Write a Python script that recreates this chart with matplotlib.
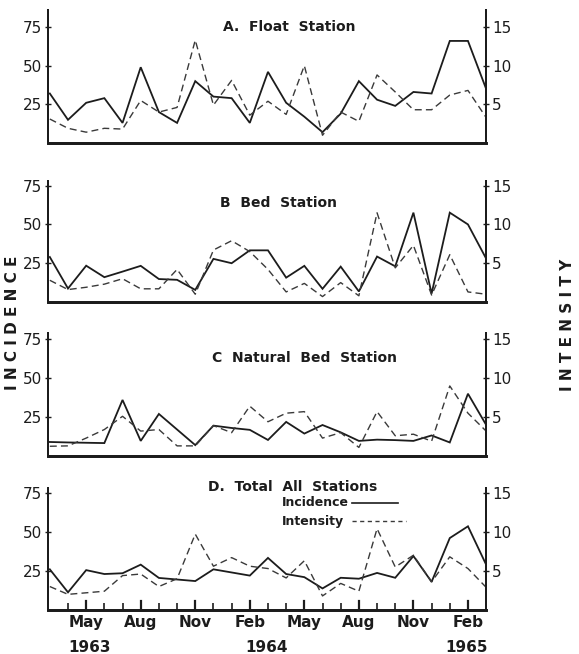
import numpy as np
import matplotlib
matplotlib.use("Agg")
import matplotlib.pyplot as plt
from matplotlib.lines import Line2D

# Monthly samples, March 1963 through March 1965
months = list(range(25))
month_labels = ["May", "Aug", "Nov", "Feb", "May", "Aug", "Nov", "Feb"]
month_label_idx = [2, 5, 8, 11, 14, 17, 20, 23]
year_labels = ["1963", "1964", "1965"]
year_label_pos = [2.2, 11.9, 22.9]

inc_A = [32, 15, 26, 29, 13, 49, 20, 13, 40, 30, 29, 13, 46, 26, 17, 7, 19, 40, 28, 24, 33, 32, 66, 66, 35]
int_A = [3.1, 1.9, 1.4, 1.9, 1.8, 5.5, 4.0, 4.6, 13.3, 4.9, 8.1, 3.6, 5.4, 3.7, 10.0, 1.0, 4.0, 2.8, 8.8, 6.6, 4.3, 4.3, 6.2, 6.8, 3.3]

inc_B = [29, 8.7, 23.4, 16, 19.6, 23.3, 14.8, 14.3, 7.8, 27.8, 25, 33.3, 33.3, 15.7, 23.3, 8.5, 22.8, 6.8, 29.3, 23, 57.6, 5.4, 57.6, 50, 28]
int_B = [2.8, 1.6, 1.9, 2.3, 3.0, 1.7, 1.7, 4.2, 1.0, 6.7, 7.9, 6.5, 4.2, 1.3, 2.4, 0.7, 2.5, 0.8, 11.5, 4.4, 7.3, 0.9, 6.1, 1.3, 1.0]

inc_C = [9, 8.7, 8.5, 8.3, 36, 9.7, 27, 17, 7, 19.5, 18, 16.8, 10.3, 21.9, 14.4, 19.9, 15.2, 9.7, 10.5, 10.2, 9.7, 13.2, 8.7, 40, 20]
int_C = [1.25, 1.3, 2.3, 3.4, 5.1, 3.2, 3.4, 1.3, 1.3, 3.9, 3.0, 6.4, 4.4, 5.5, 5.7, 2.3, 3.0, 1.1, 5.7, 2.6, 2.8, 1.9, 9.0, 5.5, 3.2]

inc_D = [26, 11.3, 25.5, 23, 23.5, 29, 20.5, 19.5, 18.5, 26, 24, 22, 33.3, 23, 21, 13.8, 20.6, 20, 23.7, 20.6, 34.5, 18, 46, 53.5, 29]
int_D = [3.0, 2.0, 2.2, 2.4, 4.4, 4.6, 3.0, 4.0, 9.7, 5.6, 6.7, 5.6, 5.3, 4.1, 6.3, 1.8, 3.4, 2.4, 10.4, 5.5, 7.0, 3.6, 6.8, 5.3, 2.9]

titles = ["A.  Float  Station", "B  Bed  Station", "C  Natural  Bed  Station", "D.  Total  All  Stations"]
inc_ticks = [25, 50, 75]
int_ticks = [5, 10, 15]

W, H = 579, 654
fig = plt.figure(figsize=(W / 100, H / 100), dpi=100)
fig.patch.set_facecolor("white")

INK = "#1c1c1c"
DASH = "#3a3a3a"
FONT = "DejaVu Sans"


def px(x, y):
    return x / W, 1 - y / H


# panel boxes in pixels: (top, bottom, incidence ceiling)
boxes = [(10, 143, 86), (181, 302, 78), (333, 456, 79), (488, 610, 78)]
title_pos = [(289, 27), (278, 203), (304, 358), (293, 487)]
series = [(inc_A, int_A), (inc_B, int_B), (inc_C, int_C), (inc_D, int_D)]

left_px, right_px = 48, 486.5
for k, ((top, bot, ymax), (inc, inten)) in enumerate(zip(boxes, series)):
    l, b = px(left_px, bot)
    ax = fig.add_axes([l, b, (right_px - left_px) / W, (bot - top) / H])
    ax2 = ax.twinx()
    ax.set_xlim(-0.1, 24.02)
    ax.set_ylim(0, ymax)
    ax2.set_ylim(0, ymax / 5)

    ax.plot(months, inc, color=INK, lw=1.3, solid_joinstyle="miter")
    ax2.plot(months, inten, color=DASH, lw=1.0, dashes=(5, 3))

    for a in (ax, ax2):
        a.spines["top"].set_visible(False)
        a.set_facecolor("none")
        for s in ("left", "right"):
            a.spines[s].set_linewidth(1.4)
            a.spines[s].set_color(INK)
        a.spines["bottom"].set_linewidth(2.0)
        a.spines["bottom"].set_color(INK)

    ax.set_yticks(inc_ticks)
    ax.set_yticklabels([str(v) for v in inc_ticks], fontsize=11, family=FONT, color=INK)
    ax2.set_yticks(int_ticks)
    ax2.set_yticklabels([str(v) for v in int_ticks], fontsize=11, family=FONT, color=INK)
    ax.tick_params(axis="y", direction="inout", length=4, width=1, pad=2, colors=INK)
    ax2.tick_params(axis="y", direction="inout", length=4, width=1, pad=2, colors=INK)

    if k < 3:
        ax.set_xticks([])
    else:
        ax.set_xticks(range(1, 24))
        ax.set_xticklabels([])
        ax.tick_params(axis="x", direction="in", length=5, width=1.2, colors=INK)
        for i, name in zip(month_label_idx, month_labels):
            ax.axvline(i, ymin=0, ymax=9 / (bot - top), color=INK, lw=1.6)
            ax.text(i, -0.1, name, transform=ax.get_xaxis_transform(),
                    ha="center", va="center", fontsize=11, family=FONT,
                    fontweight="bold", color=INK)
        for x, yr in zip(year_label_pos, year_labels):
            ax.text(x, -0.31, yr, transform=ax.get_xaxis_transform(),
                    ha="center", va="center", fontsize=11, family=FONT,
                    fontweight="bold", color=INK)

    tx, ty = px(*title_pos[k])
    fig.text(tx, ty, titles[k], ha="center", va="center", fontsize=10,
             family=FONT, fontweight="bold", color=INK)

# legend for the bottom panel
for label, yy, style in [("Incidence", 503, "-"), ("Intensity", 521, "--")]:
    x0, y0 = px(282, yy)
    fig.text(x0, y0, label, ha="left", va="center", fontsize=9,
             family=FONT, fontweight="bold", color=INK)
    xa, ya = px(352, yy)
    xb, _ = px(398, yy)
    if style == "-":
        fig.add_artist(Line2D([xa, xb], [ya, ya], color=INK, lw=1.2, transform=fig.transFigure))
    else:
        xb, _ = px(406, yy)
        fig.add_artist(Line2D([xa, xb], [ya, ya], color=DASH, lw=1.0,
                              dashes=(3, 2.5), transform=fig.transFigure))

# side labels
lx, ly = px(13, 323)
fig.text(lx, ly, "I N C I D E N C E", rotation=90, ha="center", va="center",
         fontsize=11, family=FONT, fontweight="bold", color=INK)
rx, ry = px(567, 325)
fig.text(rx, ry, "I N T E N S I T Y", rotation=90, ha="center", va="center",
         fontsize=11, family=FONT, fontweight="bold", color=INK)

fig.savefig("out.png", dpi=100, facecolor="white")
